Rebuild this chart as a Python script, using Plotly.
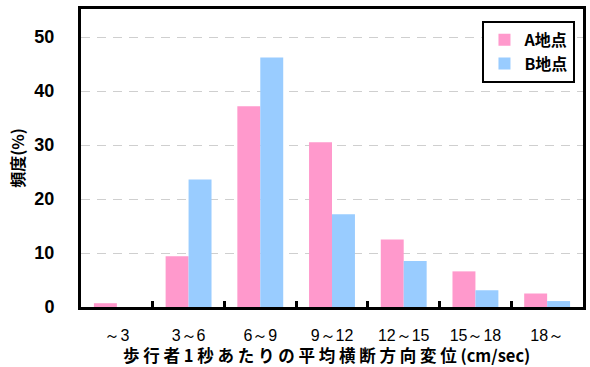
import plotly.graph_objects as go

categories = ["～3", "3～6", "6～9", "9～12", "12～15", "15～18", "18～"]
site_a = [0.7, 9.4, 37.2, 30.5, 12.5, 6.6, 2.5]
site_b = [0.0, 23.6, 46.2, 17.2, 8.5, 3.1, 1.1]
series_names = ["A地点", "B地点"]
y_ticks = [0, 10, 20, 30, 40, 50]
x_title_jp = "歩行者1秒あたりの平均横断方向変位"
x_title_unit = "(cm/sec)"

PINK = "#FF99CC"
BLUE = "#99CCFF"
JP_FONT = "Noto Sans CJK JP"

# spread the Japanese title out with non-breaking spaces between characters
spaced_title = "\u00a0".join(x_title_jp) + "\u00a0" + x_title_unit

fig = go.Figure()
fig.add_trace(go.Bar(x=categories, y=site_a, name=series_names[0],
                     marker=dict(color=PINK, line=dict(width=0))))
fig.add_trace(go.Bar(x=categories, y=site_b, name=series_names[1],
                     marker=dict(color=BLUE, line=dict(width=0))))

fig.update_layout(
    width=590, height=367,
    margin=dict(l=81, r=4, t=9, b=60),
    paper_bgcolor="white", plot_bgcolor="white",
    barmode="group", bargap=0.36, bargroupgap=0,
    showlegend=True,
    legend=dict(
        x=0.985, y=0.96, xanchor="right", yanchor="top",
        bgcolor="white", bordercolor="black", borderwidth=2,
        font=dict(family=JP_FONT, size=16, color="black", weight="bold"),
        itemwidth=30,
    ),
    xaxis=dict(
        type="category",
        showline=True, linecolor="black", linewidth=3, mirror=True,
        ticks="inside", tickson="boundaries", ticklen=6, tickwidth=3,
        tickcolor="black",
        ticklabelstandoff=12,
        tickfont=dict(family="Liberation Sans", size=16, color="black"),
        showgrid=False,
    ),
    yaxis=dict(
        range=[0, 55.2],
        tickvals=y_ticks,
        showline=True, linecolor="black", linewidth=3, mirror=True,
        ticks="", ticklabelstandoff=20,
        tickfont=dict(family="Liberation Sans", size=18, color="black",
                      weight="bold"),
        showgrid=True, gridcolor="#CFCFCF", griddash="9px,7px", gridwidth=1,
        zeroline=False,
        title=dict(
            text="頻度(%)",
            font=dict(family=JP_FONT, size=16, color="black", weight="bold"),
            standoff=6,
        ),
    ),
)

fig.add_annotation(
    text=spaced_title, xref="paper", yref="paper",
    x=0.49, y=-0.162, xanchor="center", yanchor="middle", showarrow=False,
    font=dict(family=JP_FONT, size=16.5, color="black", weight="bold"),
)

fig.write_html("out.html")
